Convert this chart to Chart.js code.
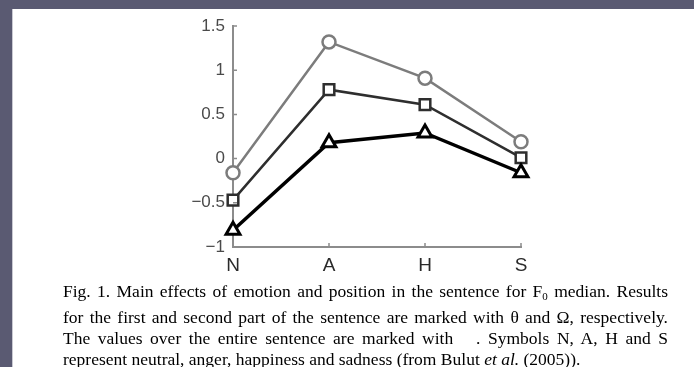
<!DOCTYPE html>
<html>
<head>
<meta charset="utf-8">
<script src="https://cdn.jsdelivr.net/npm/chart.js@4/dist/chart.umd.min.js"></script>
<style>
  html, body { margin: 0; padding: 0; }
  body { width: 694px; height: 367px; background: #5a5a72; position: relative; overflow: hidden; }
  #panel { position: absolute; left: 12px; top: 9px; right: 0; bottom: 0; background: #fff; border-left: 1px solid #c9c9d2; }
  #wrap { position: absolute; left: 0; top: 0; width: 694px; height: 367px; }
  #caption { position: absolute; left: 63px; top: 281px; width: 605px; font-family: "Liberation Serif", "Times New Roman", serif; font-size: 17.5px; line-height: 21px; color: #000; }
  #caption div { text-align: justify; text-align-last: justify; white-space: nowrap; }
  #caption div.last { text-align-last: left; }
  #caption .sub { font-size: 11px; vertical-align: -3px; }
</style>
</head>
<body>
<div id="panel"></div>
<div id="wrap"><canvas id="chart" width="694" height="367"></canvas></div>
<div id="caption">
  <div>Fig. 1. Main effects of emotion and position in the sentence for F<span class="sub">0</span> median. Results</div>
  <div>for the first and second part of the sentence are marked with θ and Ω, respectively.</div>
  <div>The values over the entire sentence are marked with &nbsp;&nbsp;. Symbols N, A, H and S</div>
  <div class="last">represent neutral, anger, happiness and sadness (from Bulut <i>et al.</i> (2005)).</div>
</div>
<script>
// Emotion categories and F0-median effects
const categories = ['N', 'A', 'H', 'S'];
const firstPart  = [-0.16, 1.32, 0.91, 0.19];   // circles
const secondPart = [-0.47, 0.78, 0.61, 0.01];   // squares
const entire     = [-0.81, 0.18, 0.29, -0.16];  // triangles
const yTicks     = [-1, -0.5, 0, 0.5, 1, 1.5];

const axisGray = '#8c8c8c';

// Short inward tick marks on both axes
const innerTicks = {
  id: 'innerTicks',
  afterDraw(chart) {
    const ctx = chart.ctx;
    const x = chart.scales.x, y = chart.scales.y;
    ctx.save();
    ctx.strokeStyle = axisGray;
    ctx.lineWidth = 1.5;
    ctx.beginPath();
    x.ticks.forEach((t, i) => {
      const px = x.getPixelForTick(i);
      ctx.moveTo(px, y.bottom);
      ctx.lineTo(px, y.bottom - 4);
    });
    y.ticks.forEach((t, i) => {
      const py = y.getPixelForTick(i);
      ctx.moveTo(x.left, py);
      ctx.lineTo(x.left + 4, py);
    });
    ctx.stroke();
    ctx.restore();
  }
};

new Chart(document.getElementById('chart'), {
  type: 'line',
  data: {
    labels: categories,
    datasets: [
      {
        data: entire,
        borderColor: '#000',
        borderWidth: 3.5,
        pointStyle: 'triangle',
        pointRadius: 8,
        pointBorderWidth: 3,
        pointBackgroundColor: '#fff',
        pointBorderColor: '#000',
        tension: 0
      },
      {
        data: secondPart,
        borderColor: '#2e2e2e',
        borderWidth: 2.5,
        pointStyle: 'rect',
        pointRadius: 7.5,
        pointBorderWidth: 2.5,
        pointBackgroundColor: '#fff',
        pointBorderColor: '#2e2e2e',
        tension: 0
      },
      {
        data: firstPart,
        borderColor: '#7c7c7c',
        borderWidth: 2.5,
        pointStyle: 'circle',
        pointRadius: 6.5,
        pointBorderWidth: 2.5,
        pointBackgroundColor: '#fff',
        pointBorderColor: '#7c7c7c',
        tension: 0
      }
    ]
  },
  options: {
    responsive: false,
    animation: false,
    events: [],
    layout: { padding: { left: 188, right: 173, top: 26, bottom: 85 } },
    plugins: { legend: { display: false }, tooltip: { enabled: false } },
    scales: {
      x: {
        type: 'category',
        offset: false,
        grid: { display: true, drawOnChartArea: false, drawTicks: false },
        border: { color: axisGray, width: 2 },
        ticks: {
          padding: 7,
          maxRotation: 0,
          color: '#2a2a2a',
          font: { family: 'Liberation Sans, Arial, sans-serif', size: 19 }
        },
        afterFit(scale) { scale.height = 35; }
      },
      y: {
        min: -1,
        max: 1.5,
        afterBuildTicks(scale) { scale.ticks = yTicks.map(v => ({ value: v })); },
        grid: { display: true, drawOnChartArea: false, drawTicks: false },
        border: { color: axisGray, width: 2 },
        ticks: {
          padding: 8,
          color: '#4a4a4a',
          font: { family: 'Liberation Sans, Arial, sans-serif', size: 17 },
          callback: v => String(v).replace('-', '\u2212')
        },
        afterFit(scale) { scale.width = 45; }
      }
    }
  },
  plugins: [innerTicks]
});
</script>
</body>
</html>
